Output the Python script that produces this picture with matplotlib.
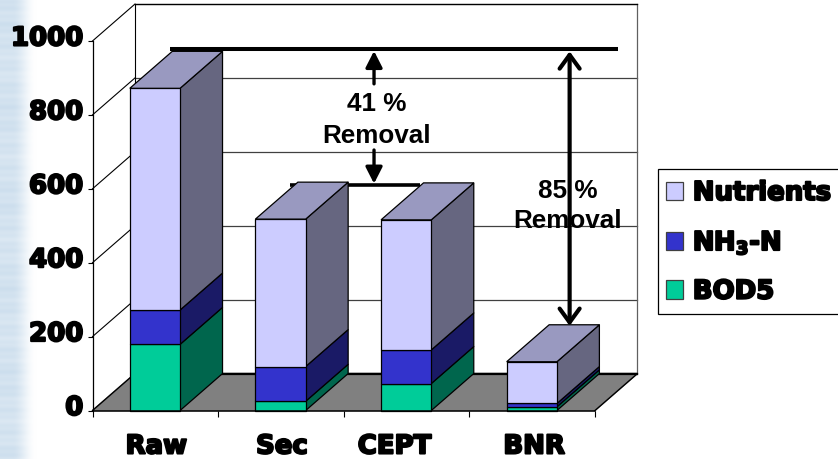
#!/usr/bin/python3
#
# Stacked pseudo-3D bars of the effluent load per treatment type

import matplotlib
matplotlib.use('Agg')
import matplotlib.pyplot as plt
import matplotlib.patheffects as pe
from matplotlib.patches import Patch, Rectangle
import numpy as np

##################################################
# data
##################################################

categories = ['Raw', 'Sec', 'CEPT', 'BNR']
bod5 = [179, 25, 73, 10]
nh3_n = [93, 94, 91, 9]
nutrients = [600, 399, 352, 113]
y_ticks = [0, 200, 400, 600, 800, 1000]
series_names = ['BOD5', 'NH$_{\\mathbf{3}}$-N', 'Nutrients']

##################################################
# style
##################################################

W, H = 838, 459
DEPTH_X = 0.338    # depth of the box in category units
DEPTH_Y = 100      # depth of the box in value units
BAR_WIDTH = 0.40

front_cols = ['#00CC99', '#3333CC', '#CCCCFF']
side_cols = ['#00664D', '#1A1A66', '#666680']
top_col = '#9999C0'

plt.rcParams['font.family'] = ['DejaVu Sans']
plt.rcParams['mathtext.fontset'] = 'dejavusans'

fat = [pe.withStroke(linewidth=1.5, foreground='black')]

fig = plt.figure(figsize=(W / 100, H / 100), dpi=100)

# streaky blue fade at the left edge of the slide
bg = fig.add_axes([0, 0, 1, 1], zorder=-1)
rows = np.arange(H)
cols = np.arange(W)
streak = 0.5 + 0.2 * np.sin(rows * 0.31) + 0.16 * np.sin(rows * 0.83 + 1.0) + 0.14 * np.sin(rows * 0.071)
fade = np.clip((36 - cols) / 24.0, 0, 1)
fade = fade * fade * (3 - 2 * fade)
amount = np.outer(0.7 + 0.3 * streak, fade)
img = np.ones((H, W, 3))
for i, c in enumerate([0.80, 0.87, 0.93]):
    img[:, :, i] = 1 - amount * (1 - c)
bg.imshow(img, aspect='auto', interpolation='bilinear')
bg.axis('off')

ax = fig.add_axes([92.5 / W, (H - 410.5) / H, 502.5 / W, 369.5 / H])
ax.set_xlim(0, 4)
ax.set_ylim(0, 1000)
ax.patch.set_visible(False)
for s in ['top', 'right']:
    ax.spines[s].set_visible(False)
ax.spines['left'].set_linewidth(0.9)
ax.spines['bottom'].set_linewidth(1.1)
ax.spines['left'].set_zorder(12)
ax.spines['bottom'].set_zorder(12)

##################################################
# walls and floor
##################################################

top = y_ticks[-1]
n = len(categories)
ax.fill([0, DEPTH_X, n + DEPTH_X, n], [0, DEPTH_Y, DEPTH_Y, 0], color='#808080', clip_on=False, zorder=1)
ax.plot([0, DEPTH_X, n + DEPTH_X, n], [0, DEPTH_Y, DEPTH_Y, 0], color='black', lw=1.0, clip_on=False, zorder=2)
ax.plot([DEPTH_X, n + DEPTH_X], [DEPTH_Y, DEPTH_Y], color='black', lw=1.6, clip_on=False, zorder=2)

for v in y_ticks[1:]:
    ax.plot([0, DEPTH_X], [v, v + DEPTH_Y], color='black', lw=0.8, clip_on=False, zorder=1)
    ax.plot([DEPTH_X, n + DEPTH_X], [v + DEPTH_Y, v + DEPTH_Y], color='#404040', lw=0.9, clip_on=False, zorder=1)
ax.plot([DEPTH_X, DEPTH_X], [DEPTH_Y, top + DEPTH_Y], color='black', lw=0.8, clip_on=False, zorder=1)
ax.plot([n + DEPTH_X, n + DEPTH_X], [DEPTH_Y, top + DEPTH_Y], color='#606060', lw=0.9, clip_on=False, zorder=1)
ax.plot([DEPTH_X, n + DEPTH_X], [top + DEPTH_Y, top + DEPTH_Y], color='black', lw=0.9, clip_on=False, zorder=1)

##################################################
# removal lines
##################################################

ax.plot([0.617, 4.184], [977, 977], color='black', lw=2.9, solid_capstyle='butt', clip_on=False, zorder=3)
ax.plot([1.572, 2.607], [611, 611], color='black', lw=2.6, solid_capstyle='butt', clip_on=False, zorder=3)

##################################################
# bars
##################################################

def draw_box(x0, y0, y1, front, side, zorder):
    x1 = x0 + BAR_WIDTH
    edge = dict(edgecolor='black', linewidth=0.9, joinstyle='round', clip_on=False, zorder=zorder)
    ax.fill([x1, x1 + DEPTH_X, x1 + DEPTH_X, x1],
            [y0, y0 + DEPTH_Y, y1 + DEPTH_Y, y1], facecolor=side, **edge)
    ax.fill([x0, x1, x1, x0], [y0, y0, y1, y1], facecolor=front, **edge)


zorder = 5
for i in range(n):
    x0 = i + 0.497 - BAR_WIDTH / 2
    base = 0
    for vals, front, side in zip([bod5, nh3_n, nutrients], front_cols, side_cols):
        draw_box(x0, base, base + vals[i], front, side, zorder)
        base += vals[i]
    x1 = x0 + BAR_WIDTH
    ax.fill([x0, x1, x1 + DEPTH_X, x0 + DEPTH_X],
            [base, base, base + DEPTH_Y, base + DEPTH_Y],
            facecolor=top_col, edgecolor='black', linewidth=0.9, clip_on=False, zorder=zorder)
    zorder += 1

##################################################
# arrows and removal text
##################################################

solid = dict(arrowstyle='-|>,head_length=0.55,head_width=0.28', color='black', lw=2.4, shrinkA=0, shrinkB=0,
             mutation_scale=18)
ax.annotate('', xy=(2.241, 973), xytext=(2.241, 884), arrowprops=solid, annotation_clip=False, zorder=9)
ax.annotate('', xy=(2.241, 614), xytext=(2.241, 705), arrowprops=solid, annotation_clip=False, zorder=9)

big = dict(family='Liberation Sans', weight='bold', fontsize=18.8, ha='center', va='center', zorder=9)
ax.text(2.26, 829, '41 %', **big)
ax.text(2.26, 742, 'Removal', **big)
ax.text(3.78, 595, '85 %', **big)
ax.text(3.78, 512, 'Removal', **big)

ax.annotate('', xy=(3.798, 972), xytext=(3.798, 229), annotation_clip=False, zorder=10,
            arrowprops=dict(arrowstyle='<->,head_length=0.55,head_width=0.4', color='black', lw=3,
                            shrinkA=0, shrinkB=0, mutation_scale=18))

##################################################
# axes text
##################################################

ax.set_yticks(y_ticks)
ax.set_xticks(range(n + 1))
ax.set_xticklabels([])
ax.tick_params(axis='y', length=3.6, width=0.8, pad=3)
ax.tick_params(axis='x', length=4.5, width=0.8)

ax.set_yticklabels([str(v) for v in y_ticks], fontsize=18.7, weight='bold', path_effects=fat, va='center')
shift_up = matplotlib.transforms.ScaledTranslation(0, 2.5 / 100, fig.dpi_scale_trans)
for lab in ax.get_yticklabels():
    lab.set_transform(lab.get_transform() + shift_up)

label_shift = [1, 1, -12, 2]
for i, cat in enumerate(categories):
    ax.annotate(cat, xy=(i + 0.5, 0), xytext=(label_shift[i], -43), textcoords='offset pixels',
                ha='center', va='baseline', fontsize=18.7, weight='bold', path_effects=fat,
                annotation_clip=False)

##################################################
# legend
##################################################

# the box runs off the right edge of the slide, so it is drawn apart from the legend
fig.add_artist(Rectangle((657.5 / W, 1 - 314 / H), 200 / W, 145.5 / H, transform=fig.transFigure,
                         facecolor='white', edgecolor='black', linewidth=0.9, zorder=3))

handles = [Patch(facecolor=c, edgecolor='#404040', linewidth=0.9) for c in front_cols]
leg = fig.legend(handles[::-1], series_names[::-1], loc='upper left',
                 bbox_to_anchor=(665.5 / W, 1 - 180 / H), borderaxespad=0,
                 prop=dict(size=18.7, weight='bold'), handlelength=0.67, handleheight=0.73,
                 handletextpad=0.38, labelspacing=0.85, borderpad=0, frameon=False)
leg.set_zorder(4)
for t in leg.get_texts():
    t.set_path_effects(fat)

plt.savefig('out.png', dpi=100)
